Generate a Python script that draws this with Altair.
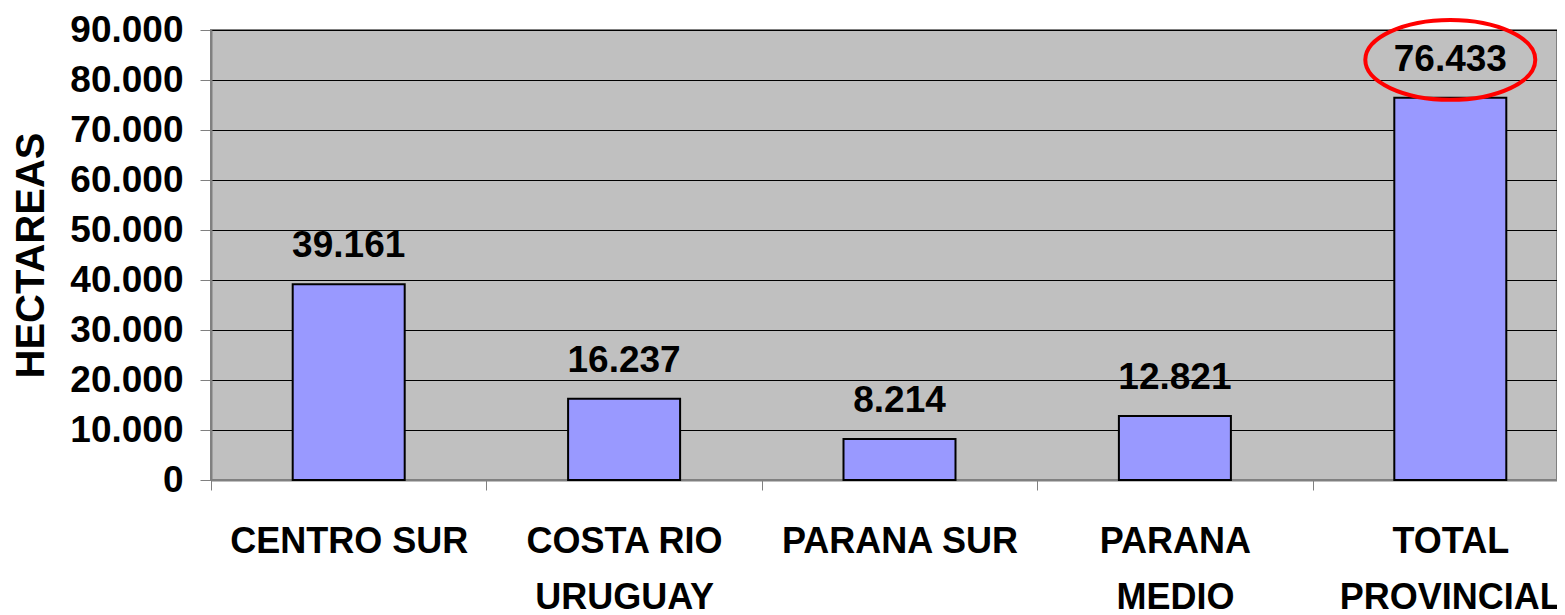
import altair as alt
import pandas as pd

regions = ["CENTRO SUR", "COSTA RIO\nURUGUAY", "PARANA SUR", "PARANA\nMEDIO", "TOTAL\nPROVINCIAL"]
hectares = [39161, 16237, 8214, 12821, 76433]
y_ticks = [0, 10000, 20000, 30000, 40000, 50000, 60000, 70000, 80000, 90000]

df = pd.DataFrame({"region": regions, "ha": hectares})

FONT = "Liberation Sans"
fmt = "replace(format(datum.value, ',.0f'), regexp(',', 'g'), '.')"

x = alt.X(
    "region:N",
    sort=regions,
    title=None,
    scale=alt.Scale(range=[0, 1377], paddingInner=0, paddingOuter=0),
    axis=alt.Axis(
        labelAngle=0,
        labelFont=FONT,
        labelFontSize=36,
        labelFontWeight="bold",
        labelColor="black",
        labelPadding=34,
        labelLineHeight=56,
        labelBaseline="top",
        labelLimit=0,
        labelOverlap=False,
        labelExpr="split(datum.label, '\\n')",
        tickBand="extent",
        tickSize=10,
        tickColor="#808080",
        domainColor="#808080",
        domainWidth=2,
        grid=False,
    ),
)

y = alt.Y(
    "ha:Q",
    title="HECTAREAS",
    scale=alt.Scale(domain=[0, 90000], nice=False),
    axis=alt.Axis(
        values=y_ticks,
        labelExpr=fmt,
        labelFont=FONT,
        labelFontSize=37,
        labelFontWeight="bold",
        labelColor="black",
        labelPadding=17,
        labelOverlap=False,
        tickSize=11,
        tickColor="#808080",
        domainColor="#808080",
        domainWidth=2,
        grid=True,
        gridColor="#000000",
        gridWidth=1,
        titleFont=FONT,
        titleFontSize=40,
        titleFontWeight="bold",
        titleColor="black",
        titlePadding=18,
    ),
)

base = alt.Chart(df)

bars = base.mark_bar(size=112, color="#9999FF", stroke="black", strokeWidth=2).encode(x=x, y=y)

labels = base.transform_calculate(
    lbl="replace(format(datum.ha, ',.0f'), regexp(',', 'g'), '.')"
).mark_text(
    font=FONT, fontSize=37, fontWeight="bold", color="black", baseline="alphabetic", dy=-27
).encode(x=x, y=y, text="lbl:N")

ellipse = base.transform_filter(
    alt.datum.ha == max(hectares)
).mark_point(
    shape="M-1,-0.447 A1,0.47 0 1,0 1,-0.447 A1,0.47 0 1,0 -1,-0.447 Z",
    size=28900,
    filled=False,
    stroke="#FF0000",
    strokeWidth=4,
    opacity=1,
).encode(x=x, y=y)

chart = (
    alt.layer(bars, labels, ellipse)
    .properties(
        width=1346,
        height=450,
        autosize=alt.AutoSizeParams(type="none"),
        padding={"left": 203, "top": 22, "right": 0, "bottom": 135},
        background="white",
    )
    .configure_view(fill="#C0C0C0", stroke="#808080", strokeWidth=2)
)

chart.save("out.html", embed_options={"renderer": "svg", "actions": False})
